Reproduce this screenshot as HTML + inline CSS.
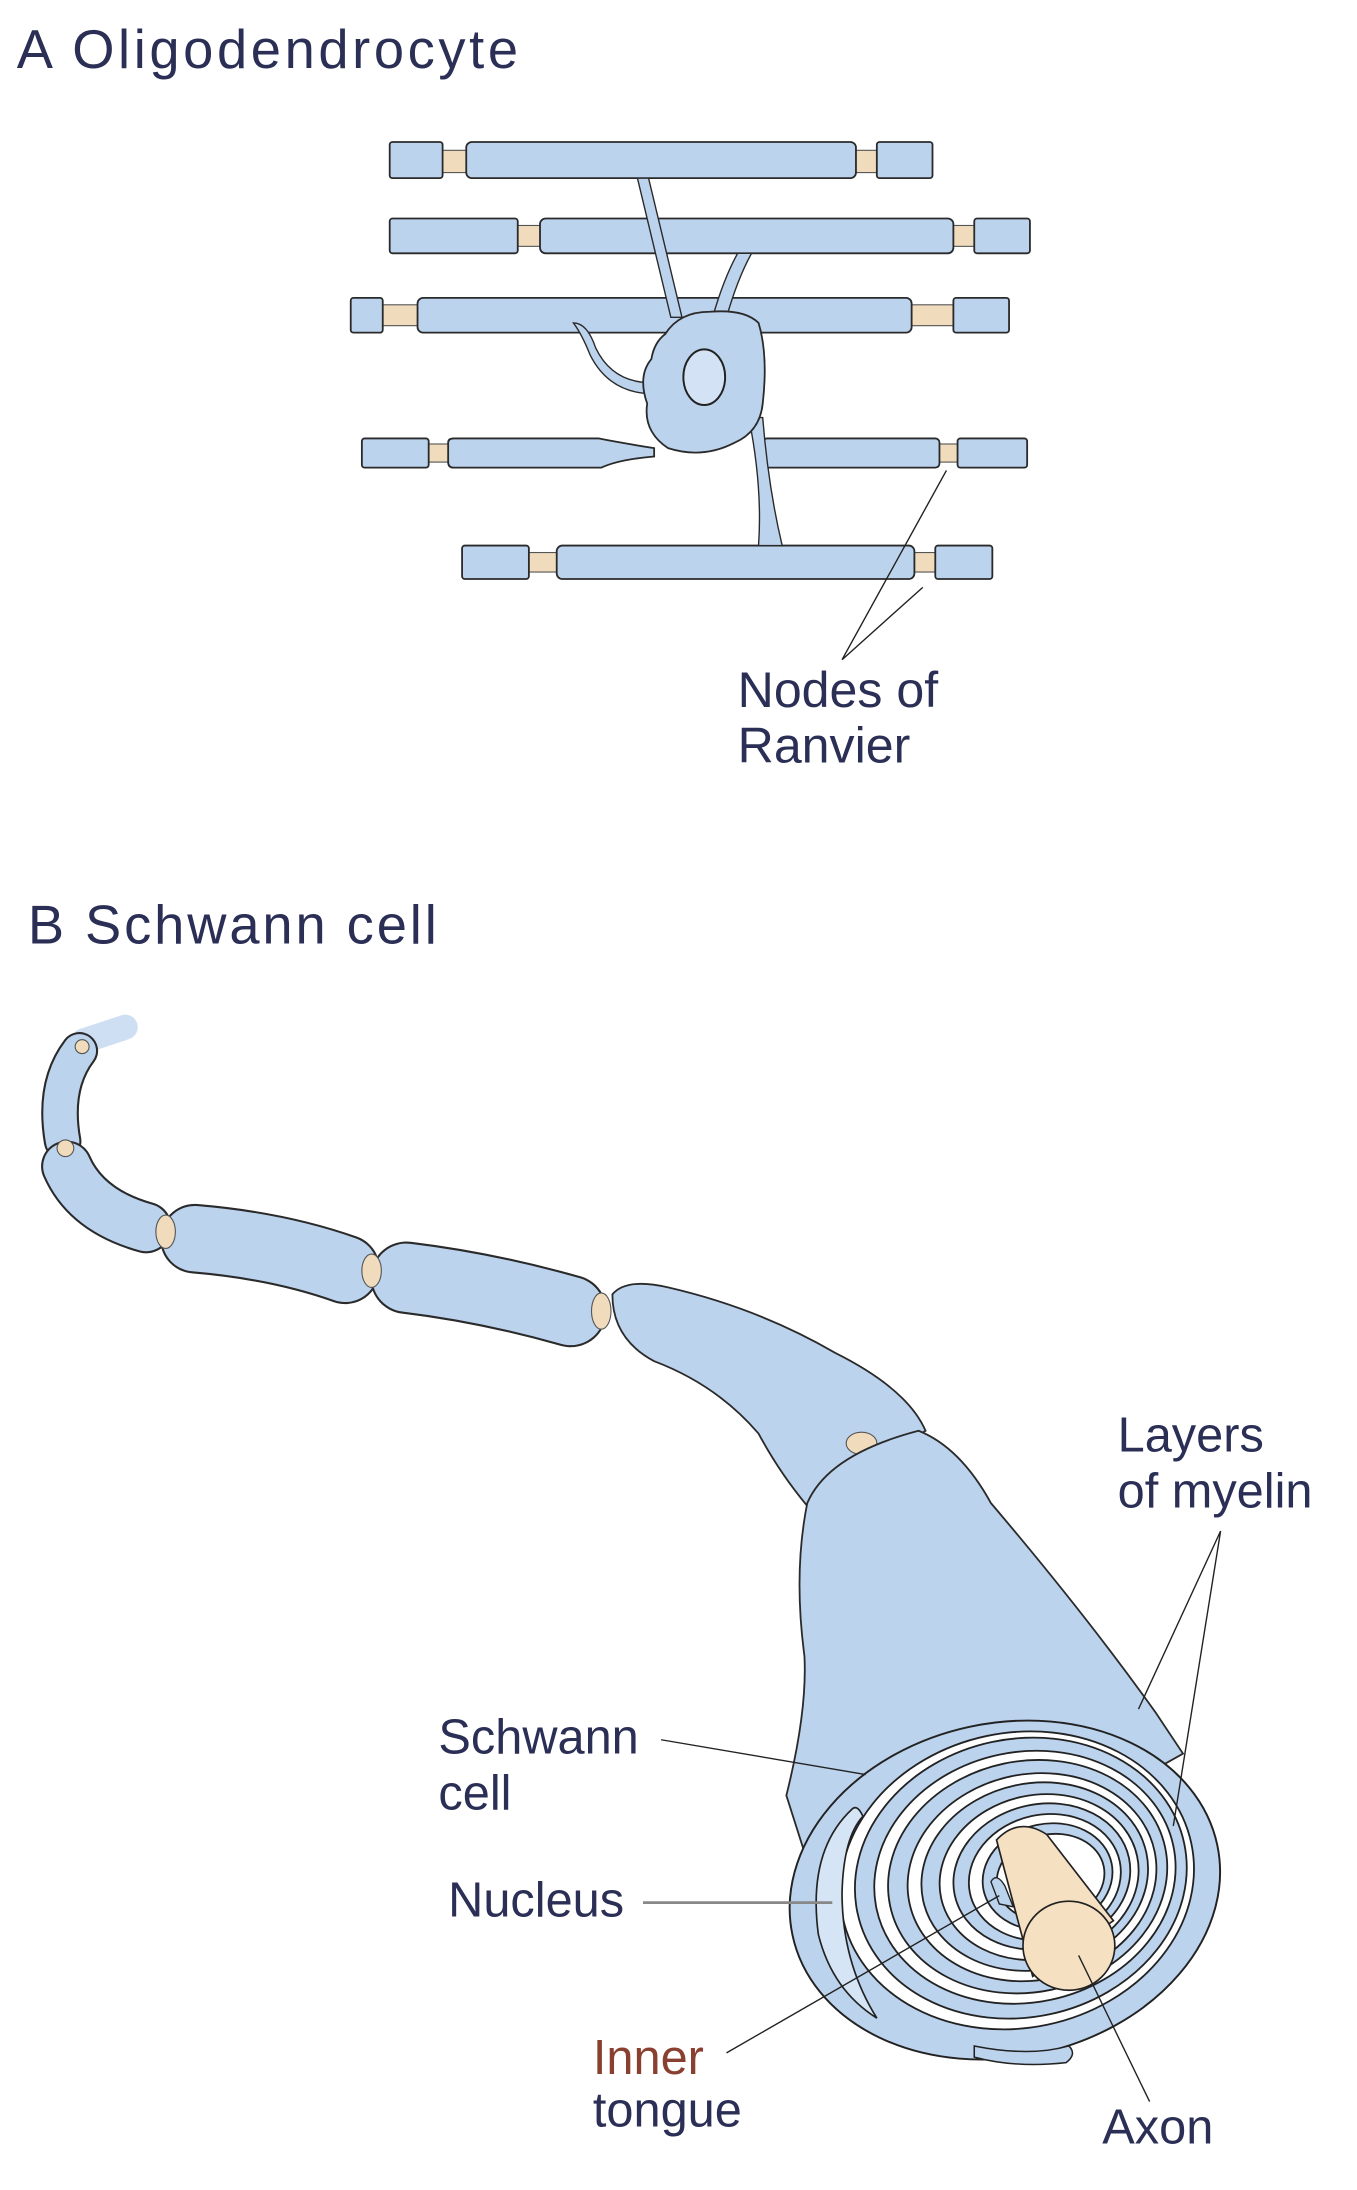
<!DOCTYPE html>
<html><head><meta charset="utf-8"><style>
html,body{margin:0;padding:0;background:#fff;}
svg{display:block;}
text{font-family:"Liberation Sans",sans-serif;fill:#2b2f55;}
</style></head><body>
<svg width="1357" height="2190" viewBox="0 0 975 1573.5" xmlns="http://www.w3.org/2000/svg">
<defs>
<style>.s{fill:#bcd3ee;stroke:#2a2a2a;stroke-width:1.3}.n{fill:#f0dcbd;stroke:#555;stroke-width:0.8}.l{stroke:#222;stroke-width:1;fill:none}</style>
</defs>
<text x="12" y="49" font-size="39" letter-spacing="2.6">A Oligodendrocyte</text>

<!-- Row1 -->
<rect class="n" x="316" y="108" width="21" height="16"/>
<rect class="n" x="612" y="108" width="20" height="16"/>
<rect class="s" x="280" y="102" width="38" height="26" rx="2"/>
<rect class="s" x="335" y="102" width="280" height="26" rx="4"/>
<rect class="s" x="630" y="102" width="40" height="26" rx="2"/>
<!-- Row2 -->
<rect class="n" x="370" y="162" width="20" height="15"/>
<rect class="n" x="683" y="162" width="19" height="15"/>
<rect class="s" x="280" y="157" width="92" height="25" rx="2"/>
<rect class="s" x="388" y="157" width="297" height="25" rx="4"/>
<rect class="s" x="700" y="157" width="40" height="25" rx="2"/>
<!-- Row3 -->
<rect class="n" x="272" y="219" width="30" height="15"/>
<rect class="n" x="653" y="219" width="34" height="15"/>
<rect class="s" x="252" y="214" width="23" height="25" rx="2"/>
<rect class="s" x="300" y="214" width="355" height="25" rx="4"/>
<rect class="s" x="685" y="214" width="40" height="25" rx="2"/>
<!-- Row5 -->
<rect class="n" x="378" y="397" width="24" height="14"/>
<rect class="n" x="653" y="397" width="21" height="14"/>
<rect class="s" x="332" y="392" width="48" height="24" rx="2"/>
<rect class="s" x="400" y="392" width="257" height="24" rx="4"/>
<rect class="s" x="672" y="392" width="41" height="24" rx="2"/>
<!-- Row4 -->
<rect class="n" x="306" y="319" width="18" height="13"/>
<rect class="n" x="673" y="319" width="17" height="13"/>
<rect class="s" x="260" y="315" width="48" height="21" rx="2"/>
<path class="s" d="M322,318 Q322,315 326,315 L430,315 Q445,318 470,322 L470,328 Q445,330 432,336 L326,336 Q322,336 322,332 Z"/>
<rect class="s" x="548" y="315" width="127" height="21" rx="3"/>
<rect class="s" x="688" y="315" width="50" height="21" rx="2"/>

<!-- processes -->
<path d="M458,128 L482,228 L490,228 L466,128 Z" fill="#bcd3ee" stroke="#2a2a2a" stroke-width="1"/>
<path d="M530,182 Q520,200 512,228 L522,228 Q530,200 540,182 Z" fill="#bcd3ee" stroke="#2a2a2a" stroke-width="1"/>
<path d="M538,300 Q548,350 545,392 L562,392 Q552,350 548,300 Z" fill="#bcd3ee" stroke="#2a2a2a" stroke-width="1"/>
<path d="M412,232 Q422,232 428,250 Q440,275 468,275 L470,283 Q438,283 424,255 Q418,240 412,232 Z" fill="#bcd3ee" stroke="#2a2a2a" stroke-width="1"/>
<!-- cell body -->
<path class="s" d="M478,240 Q488,224 510,224 Q535,222 545,232 Q552,255 548,290 Q546,310 528,318 Q505,330 480,322 Q462,310 465,290 Q458,270 468,258 Q470,246 478,240 Z"/>
<ellipse cx="506" cy="271" rx="15" ry="20" fill="#d3e3f5" stroke="#222" stroke-width="1.4"/>

<!-- leaders -->
<path class="l" d="M605,474 L680,338 M605,474 L663,422"/>
<text x="530" y="508" font-size="36">Nodes of</text>
<text x="530" y="548" font-size="36">Ranvier</text>

<text x="20" y="678" font-size="39" letter-spacing="2.1">B Schwann cell</text>

<!-- chain -->
<g fill="none" stroke-linecap="round">
<path d="M60,748 Q78,742 90,738" stroke="#cfdff3" stroke-width="18"/>
<path d="M57,755 Q38,780 45,820" stroke="#2a2a2a" stroke-width="27"/>
<path d="M57,755 Q38,780 45,820" stroke="#bcd3ee" stroke-width="24"/>
<path d="M48,838 Q62,870 105,882" stroke="#2a2a2a" stroke-width="37"/>
<path d="M48,838 Q62,870 105,882" stroke="#bcd3ee" stroke-width="34"/>
<path d="M140,890 Q200,895 248,912" stroke="#2a2a2a" stroke-width="50"/>
<path d="M140,890 Q200,895 248,912" stroke="#bcd3ee" stroke-width="47"/>
<path d="M292,918 Q350,925 410,942" stroke="#2a2a2a" stroke-width="52"/>
<path d="M292,918 Q350,925 410,942" stroke="#bcd3ee" stroke-width="49"/>
</g>
<ellipse class="n" cx="59" cy="752" rx="5" ry="5"/>
<ellipse class="n" cx="47" cy="825" rx="6" ry="6"/>
<ellipse class="n" cx="119" cy="885" rx="7" ry="12"/>
<ellipse class="n" cx="267" cy="913" rx="7" ry="12"/>
<ellipse class="n" cx="432" cy="942" rx="7" ry="13"/>
<!-- big curved segment -->
<path class="s" d="M440,930 Q450,918 480,925 Q545,940 600,972 Q652,998 665,1028 L580,1082 Q560,1058 545,1030 Q515,995 470,978 Q440,962 440,930 Z"/>
<ellipse class="n" cx="619" cy="1037" rx="11" ry="8"/>

<!-- cylinder body -->
<path class="s" d="M580,1080 Q595,1045 660,1028 Q690,1040 712,1080 Q780,1160 830,1230 L850,1260 L600,1400 L565,1290 Q580,1230 578,1190 Q570,1130 580,1080 Z"/>
<!-- end face -->
<g transform="rotate(-12 722 1358)">
<ellipse cx="722" cy="1358" rx="156" ry="120" fill="#bcd3ee" stroke="#222" stroke-width="1.4"/>
<ellipse cx="732" cy="1353" rx="128" ry="106" fill="#fff" stroke="#222" stroke-width="1.3"/>
<ellipse cx="735" cy="1352" rx="120" ry="100" fill="#bcd3ee" stroke="#222" stroke-width="1.3"/>
<ellipse cx="738" cy="1352" rx="109" ry="90" fill="#fff" stroke="#222" stroke-width="1.3"/>
<ellipse cx="740" cy="1352" rx="101" ry="83" fill="#bcd3ee" stroke="#222" stroke-width="1.3"/>
<ellipse cx="743" cy="1353" rx="90" ry="74" fill="#fff" stroke="#222" stroke-width="1.3"/>
<ellipse cx="745" cy="1353" rx="82" ry="67" fill="#bcd3ee" stroke="#222" stroke-width="1.3"/>
<ellipse cx="748" cy="1354" rx="72" ry="59" fill="#fff" stroke="#222" stroke-width="1.3"/>
<ellipse cx="750" cy="1354" rx="64" ry="52" fill="#bcd3ee" stroke="#222" stroke-width="1.3"/>
<ellipse cx="752" cy="1355" rx="55" ry="45" fill="#fff" stroke="#222" stroke-width="1.3"/>
<ellipse cx="754" cy="1355" rx="47" ry="38" fill="#bcd3ee" stroke="#222" stroke-width="1.3"/>
<ellipse cx="756" cy="1356" rx="39" ry="31" fill="#fff" stroke="#222" stroke-width="1.3"/>
</g>
<!-- nucleus crescent -->
<path d="M612,1300 Q580,1330 588,1390 Q598,1430 630,1450 Q605,1410 605,1360 Q606,1320 620,1305 Q616,1296 612,1300 Z" fill="#d6e5f6" stroke="#222" stroke-width="1.2"/>
<!-- tail -->
<path d="M700,1470 Q740,1478 768,1470 Q774,1476 766,1482 Q730,1486 700,1478 Z" fill="#bcd3ee" stroke="#222" stroke-width="1.1"/>
<!-- inner tongue -->
<path d="M712,1352 Q716,1345 722,1355 L728,1370 L718,1368 Z" fill="#bcd3ee" stroke="#222" stroke-width="1"/>
<!-- axon -->
<path d="M716,1322 Q732,1305 752,1318 L800,1380 L742,1420 Z" fill="#f5e0c2" stroke="#222" stroke-width="1.2"/>
<ellipse cx="768" cy="1398" rx="33" ry="32" fill="#f5e0c2" stroke="#222" stroke-width="1.2"/>

<!-- labels -->
<text x="803" y="1043" font-size="35">Layers</text>
<text x="803" y="1083" font-size="35">of myelin</text>
<path class="l" d="M877,1100 L818,1228 M877,1100 L843,1312"/>
<text x="315" y="1260" font-size="35">Schwann</text>
<text x="315" y="1300" font-size="35">cell</text>
<path class="l" d="M475,1250 L622,1275"/>
<text x="322" y="1377" font-size="35">Nucleus</text>
<path d="M462,1367 L598,1367" stroke="#888" stroke-width="2"/>
<text x="426" y="1490" font-size="35" style="fill:#8a4030">Inner</text>
<text x="426" y="1528" font-size="35">tongue</text>
<path class="l" d="M522,1475 L718,1362"/>
<text x="792" y="1540" font-size="35">Axon</text>
<path class="l" d="M826,1510 L775,1405"/>
</svg>
</body></html>
